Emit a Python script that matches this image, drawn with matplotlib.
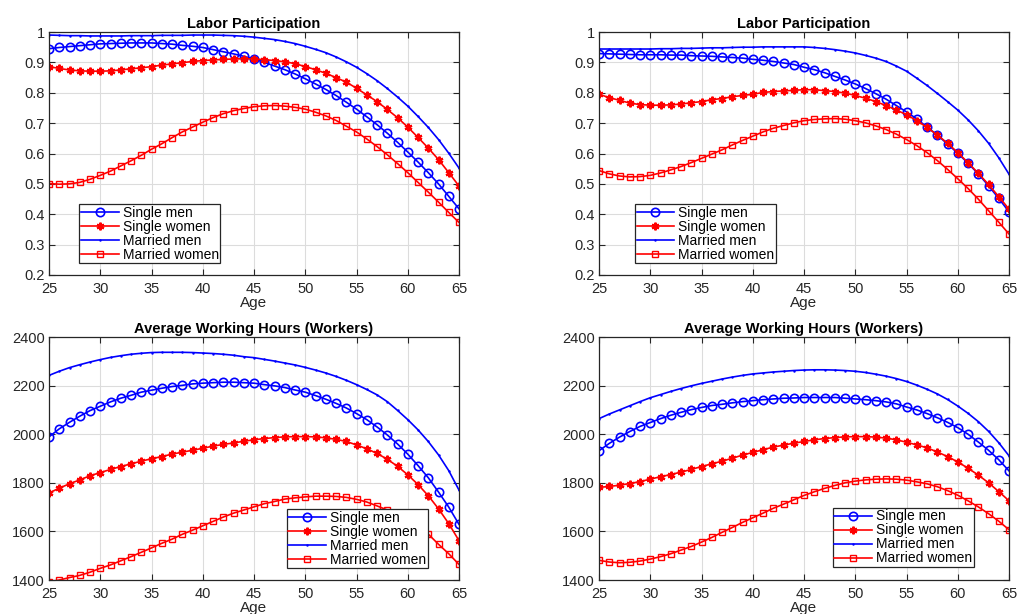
import numpy as np
import matplotlib
matplotlib.use("Agg")
import matplotlib.pyplot as plt

plt.rcParams["font.family"] = ["Liberation Sans", "DejaVu Sans"]

ages = np.arange(25, 66)

# ---- Labor participation, left panel
lp_single_men_l = [0.945, 0.949, 0.952, 0.955, 0.958, 0.961, 0.962, 0.963, 0.964, 0.964, 0.964,
                   0.962, 0.960, 0.956, 0.953, 0.949, 0.942, 0.935, 0.928, 0.920, 0.911,
                   0.900, 0.888, 0.876, 0.862, 0.846, 0.829, 0.811, 0.791, 0.769, 0.746,
                   0.721, 0.695, 0.667, 0.637, 0.605, 0.572, 0.537, 0.500, 0.459, 0.418]
lp_single_women_l = [0.886, 0.880, 0.875, 0.872, 0.871, 0.871, 0.872, 0.875, 0.879, 0.882, 0.886,
                     0.891, 0.895, 0.899, 0.903, 0.906, 0.908, 0.910, 0.911, 0.912, 0.911,
                     0.909, 0.906, 0.902, 0.896, 0.886, 0.876, 0.864, 0.850, 0.835, 0.815,
                     0.793, 0.771, 0.745, 0.718, 0.687, 0.653, 0.618, 0.580, 0.537, 0.493]
lp_married_men_l = [0.990, 0.989, 0.988, 0.988, 0.987, 0.987, 0.987, 0.987, 0.988, 0.988, 0.988,
                    0.989, 0.989, 0.989, 0.990, 0.990, 0.990, 0.989, 0.988, 0.986, 0.983,
                    0.979, 0.975, 0.969, 0.962, 0.953, 0.943, 0.932, 0.918, 0.902, 0.884,
                    0.863, 0.840, 0.814, 0.786, 0.756, 0.722, 0.686, 0.646, 0.601, 0.552]
lp_married_women_l = [0.501, 0.499, 0.500, 0.505, 0.515, 0.528, 0.542, 0.559, 0.576, 0.594, 0.614,
                      0.632, 0.652, 0.671, 0.687, 0.703, 0.718, 0.731, 0.741, 0.748, 0.754,
                      0.757, 0.758, 0.756, 0.752, 0.746, 0.736, 0.724, 0.709, 0.690, 0.671,
                      0.648, 0.623, 0.596, 0.567, 0.537, 0.505, 0.473, 0.440, 0.406, 0.373]

# ---- Labor participation, right panel
lp_single_men_r = [0.929, 0.928, 0.927, 0.926, 0.925, 0.925, 0.925, 0.924, 0.924, 0.922, 0.921,
                   0.920, 0.918, 0.916, 0.914, 0.910, 0.907, 0.903, 0.898, 0.893, 0.884,
                   0.876, 0.866, 0.854, 0.842, 0.829, 0.814, 0.797, 0.779, 0.758, 0.737,
                   0.714, 0.687, 0.661, 0.631, 0.601, 0.568, 0.533, 0.494, 0.452, 0.408]
lp_single_women_r = [0.795, 0.784, 0.775, 0.766, 0.761, 0.759, 0.759, 0.760, 0.763, 0.767, 0.771,
                     0.777, 0.781, 0.787, 0.791, 0.795, 0.801, 0.804, 0.806, 0.808, 0.810,
                     0.810, 0.807, 0.804, 0.799, 0.791, 0.782, 0.771, 0.758, 0.743, 0.728,
                     0.708, 0.686, 0.661, 0.634, 0.603, 0.570, 0.535, 0.498, 0.458, 0.417]
lp_married_men_r = [0.944, 0.944, 0.944, 0.944, 0.944, 0.944, 0.945, 0.945, 0.946, 0.946, 0.947,
                    0.948, 0.948, 0.949, 0.950, 0.950, 0.951, 0.951, 0.951, 0.951, 0.951,
                    0.949, 0.946, 0.942, 0.937, 0.931, 0.923, 0.914, 0.903, 0.888, 0.871,
                    0.848, 0.824, 0.798, 0.771, 0.743, 0.711, 0.675, 0.634, 0.586, 0.532]
lp_married_women_r = [0.544, 0.533, 0.526, 0.523, 0.524, 0.528, 0.536, 0.546, 0.557, 0.570, 0.584,
                      0.598, 0.612, 0.628, 0.643, 0.657, 0.671, 0.683, 0.692, 0.701, 0.708,
                      0.712, 0.714, 0.715, 0.713, 0.708, 0.701, 0.691, 0.679, 0.664, 0.646,
                      0.626, 0.603, 0.577, 0.548, 0.517, 0.485, 0.450, 0.412, 0.374, 0.335]

# ---- Average working hours, left panel
hr_single_men_l = [1989, 2022, 2049, 2074, 2097, 2115, 2133, 2148, 2160, 2173, 2181,
                   2189, 2196, 2201, 2207, 2210, 2212, 2214, 2214, 2212, 2210,
                   2204, 2199, 2192, 2182, 2173, 2159, 2144, 2127, 2108, 2085,
                   2060, 2030, 1997, 1960, 1918, 1871, 1821, 1762, 1700, 1629]
hr_single_women_l = [1758, 1778, 1796, 1812, 1829, 1842, 1855, 1867, 1878, 1889, 1899,
                     1908, 1918, 1926, 1934, 1942, 1951, 1958, 1964, 1971, 1977,
                     1982, 1986, 1989, 1990, 1990, 1989, 1985, 1979, 1970, 1956,
                     1940, 1921, 1897, 1868, 1833, 1793, 1747, 1693, 1632, 1562]
hr_married_men_l = [2242, 2259, 2274, 2286, 2297, 2307, 2316, 2323, 2329, 2333, 2336,
                    2337, 2337, 2337, 2336, 2334, 2332, 2329, 2325, 2319, 2315,
                    2308, 2301, 2293, 2285, 2275, 2264, 2252, 2238, 2222, 2204,
                    2184, 2162, 2134, 2098, 2060, 2018, 1970, 1915, 1850, 1770]
hr_married_women_l = [1392, 1400, 1410, 1419, 1432, 1448, 1462, 1479, 1496, 1514, 1532,
                      1551, 1568, 1588, 1605, 1623, 1641, 1659, 1675, 1688, 1701,
                      1714, 1723, 1733, 1738, 1742, 1745, 1745, 1744, 1740, 1732,
                      1721, 1705, 1688, 1668, 1647, 1622, 1589, 1547, 1508, 1464]

# ---- Average working hours, right panel
hr_single_men_r = [1932, 1962, 1988, 2011, 2032, 2048, 2064, 2078, 2090, 2101, 2110,
                   2118, 2123, 2129, 2134, 2138, 2142, 2145, 2148, 2149, 2151,
                   2151, 2151, 2151, 2148, 2145, 2142, 2138, 2133, 2125, 2112,
                   2100, 2085, 2068, 2049, 2027, 2000, 1968, 1934, 1895, 1849]
hr_single_women_r = [1781, 1785, 1790, 1797, 1805, 1815, 1825, 1834, 1844, 1855, 1867,
                     1878, 1889, 1901, 1914, 1925, 1936, 1947, 1955, 1963, 1970,
                     1977, 1982, 1986, 1989, 1990, 1990, 1988, 1984, 1977, 1967,
                     1956, 1944, 1927, 1908, 1886, 1860, 1832, 1800, 1764, 1726]
hr_married_men_r = [2064, 2083, 2100, 2117, 2134, 2150, 2163, 2176, 2188, 2199, 2209,
                    2218, 2227, 2235, 2242, 2248, 2252, 2256, 2259, 2262, 2264,
                    2265, 2265, 2264, 2262, 2259, 2254, 2247, 2239, 2229, 2217,
                    2202, 2185, 2166, 2143, 2116, 2086, 2052, 2012, 1965, 1911]
hr_married_women_r = [1481, 1474, 1471, 1473, 1478, 1486, 1496, 1508, 1523, 1538, 1556,
                      1575, 1596, 1616, 1637, 1656, 1675, 1695, 1712, 1730, 1748,
                      1763, 1777, 1789, 1800, 1807, 1812, 1815, 1816, 1815, 1811,
                      1804, 1796, 1784, 1768, 1749, 1726, 1701, 1673, 1642, 1607]

labels = ["Single men", "Single women", "Married men", "Married women"]

ASTERISK = (6, 2, 0)
styles = [
    dict(color="#0000ff", marker="o", mfc="none", ms=6, mew=1.2),
    dict(color="#ff0000", marker=ASTERISK, ms=5.5, mew=1.6),
    dict(color="#0000ff", marker=".", ms=1.5),
    dict(color="#ff0000", marker="s", mfc="none", ms=5, mew=1.0),
]

fig = plt.figure(figsize=(10.18, 6.14), dpi=100)
W, H = 1018, 614


def add_axes(x0, x1, ytop, ybot):
    return fig.add_axes([x0 / W, 1 - ybot / H, (x1 - x0) / W, (ybot - ytop) / H])


panels = [
    (add_axes(49, 459, 32, 275), "Labor Participation",
     [lp_single_men_l, lp_single_women_l, lp_married_men_l, lp_married_women_l],
     (0.2, 1.0), np.arange(0.2, 1.01, 0.1), "lower left", (0.074, 0.048)),
    (add_axes(599, 1009, 32, 275), "Labor Participation",
     [lp_single_men_r, lp_single_women_r, lp_married_men_r, lp_married_women_r],
     (0.2, 1.0), np.arange(0.2, 1.01, 0.1), "lower left", (0.088, 0.048)),
    (add_axes(49, 459, 337, 580), "Average Working Hours (Workers)",
     [hr_single_men_l, hr_single_women_l, hr_married_men_l, hr_married_women_l],
     (1400, 2400), np.arange(1400, 2401, 200), "lower right", (0.924, 0.048)),
    (add_axes(599, 1009, 337, 580), "Average Working Hours (Workers)",
     [hr_single_men_r, hr_single_women_r, hr_married_men_r, hr_married_women_r],
     (1400, 2400), np.arange(1400, 2401, 200), "lower right", (0.914, 0.053)),
]

for ax, title, series, ylim, yticks, loc, anchor in panels:
    for vals, lab, st in zip(series, labels, styles):
        ax.plot(ages, vals, lw=1.2, label=lab, **st)
    ax.set_xlim(25, 65)
    ax.set_ylim(*ylim)
    ax.set_xticks(np.arange(25, 66, 5))
    ax.set_yticks(yticks)
    if ylim[1] == 1.0:
        ax.set_yticklabels(["0.2", "0.3", "0.4", "0.5", "0.6", "0.7", "0.8", "0.9", "1"])
    ax.grid(True, color="#dcdcdc", lw=0.8)
    ax.set_axisbelow(True)
    ax.tick_params(direction="in", top=True, right=True, labelsize=10.5,
                   length=4, width=0.8, colors="#262626", labelcolor="#262626")
    ax.tick_params(axis="x", pad=5)
    ax.tick_params(axis="y", pad=3)
    for sp in ax.spines.values():
        sp.set_color("#262626")
        sp.set_linewidth(0.9)
    ax.set_title(title, fontsize=10.5, fontweight="bold", pad=3)
    ax.set_xlabel("Age", fontsize=11, labelpad=0, color="#262626")
    leg = ax.legend(loc=loc, bbox_to_anchor=anchor, fontsize=10, frameon=True,
                    fancybox=False, edgecolor="#262626", framealpha=1,
                    borderpad=0.12, labelspacing=0.0, handlelength=2.7,
                    handletextpad=0.3, borderaxespad=0)
    leg.get_frame().set_linewidth(0.9)

fig.savefig("out.png", dpi=100)
